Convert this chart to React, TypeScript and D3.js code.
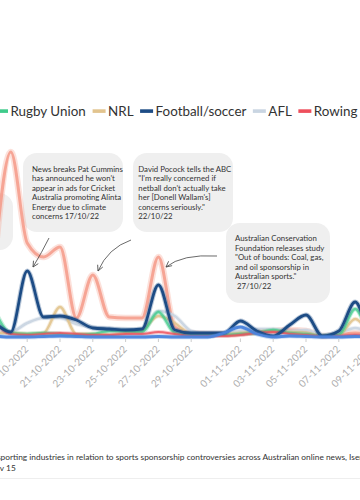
import React from "react";
import * as d3 from "d3";

const dates = [
  "2022-10-17", "2022-10-18", "2022-10-19", "2022-10-20", "2022-10-21", "2022-10-22",
  "2022-10-23", "2022-10-24", "2022-10-25", "2022-10-26", "2022-10-27", "2022-10-28",
  "2022-10-29", "2022-10-30", "2022-10-31", "2022-11-01", "2022-11-02", "2022-11-03",
  "2022-11-04", "2022-11-05", "2022-11-06", "2022-11-07", "2022-11-08", "2022-11-09",
  "2022-11-10",
];

const cricket = [15, 37, 18.8, 16, 18, 3.8, 12.4, 4, 3.8, 3.8, 16, 2, 0.8, 0.6, 0.6, 0.8, 1, 1.2, 1.4, 1.2, 0.2, 0.4, 0.8, 0.4, 0.2];
const afl = [0.8, 1, 2.8, 3.8, 3.8, 2.6, 2, 1.8, 1.6, 1.4, 5.2, 4.2, 1.2, 0.6, 0.6, 1.2, 1.6, 1.6, 1.2, 1.4, 0.4, 0.8, 1.8, 0.8, 0.4];
const nrl = [0.8, 0.8, 0.6, 0.8, 6, 0.6, 0.6, 0.4, 0.8, 1.4, 4.2, 2.8, 0.6, 0.6, 0.6, 0.8, 1, 1.2, 1, 0.8, 0.2, 0.4, 3.6, 0.8, 0.4];
const rugbyUnion = [5.4, 0.8, 0.6, 0.8, 0.6, 0.4, 0.6, 1.2, 1.2, 1, 5, 0.8, 0.4, 0.4, 0.4, 0.6, 0.8, 1.4, 0.8, 0.6, 0.2, 0.4, 5.6, 0.4, 0.2];
const rowing = [3, 0.6, 0.4, 0.6, 0.8, 0.6, 0.4, 0.4, 0.6, 0.6, 1, 0.6, 0.2, 0.2, 0.2, 0.4, 0.8, 1, 0.6, 0.4, 0.2, 0.2, 0.4, 0.2, 0.2];
const football = [3, 1, 13.2, 4, 4.2, 3.4, 1.8, 1.6, 1.4, 1.6, 10.4, 1.4, 0.8, 0.8, 0.8, 3.2, 1.2, 0.2, 2.4, 4.4, 0.2, 1.2, 7, 0.6, 0.4];
const netball = [0.2, 0, 0, 0.1, 0.2, 0.1, 0, 0, 0, 0, 0.1, 0, 0, 0, 0.8, 2, 0.6, 0, 0.2, 0.1, 0, 0, 0.1, 0, 0];

const tickDates = [
  "2022-10-19", "2022-10-21", "2022-10-23", "2022-10-25", "2022-10-27", "2022-10-29",
  "2022-11-01", "2022-11-03", "2022-11-05", "2022-11-07", "2022-11-09",
];

const legendNames = ["Rugby Union", "NRL", "Football/soccer", "AFL", "Rowing"];

const note1 = [
  "News breaks Pat Cummins",
  "has announced he won't",
  "appear in ads for Cricket",
  "Australia promoting Alinta",
  "Energy due to climate",
  "concerns 17/10/22",
];
const note2 = [
  "David Pocock tells the ABC",
  "\"I'm really concerned if",
  "netball don't actually take",
  "her [Donell Wallam's]",
  "concerns seriously.\"",
  "22/10/22",
];
const note3 = [
  "Australian Conservation",
  "Foundation releases study",
  "\"Out of bounds: Coal, gas,",
  "and oil sponsorship in",
  "Australian sports.\"",
  "\u00a027/10/22",
];

const captionLines = [
  "sporting industries in relation to sports sponsorship controversies across Australian online news, Isentia, Oct 17 –",
  "Nov 15",
];

const COLORS: Record<string, string> = {
  Cricket: "#f59a88",
  AFL: "#c9d5e2",
  NRL: "#e2c48e",
  "Rugby Union": "#3fcb8b",
  Rowing: "#ee4f5c",
  "Football/soccer": "#1d4c85",
  Netball: "#4a83dc",
};

const series = [
  { name: "Cricket", values: cricket, w: 3, halo: 6.5, op: 0.85 },
  { name: "AFL", values: afl, w: 2.6, halo: 4.5, op: 0.95 },
  { name: "NRL", values: nrl, w: 2.4, halo: 4.5, op: 0.9 },
  { name: "Rugby Union", values: rugbyUnion, w: 2.4, halo: 4.5, op: 0.75 },
  { name: "Rowing", values: rowing, w: 2, halo: 4, op: 0.8 },
  { name: "Football/soccer", values: football, w: 2.8, halo: 5, op: 1 },
  { name: "Netball", values: netball, w: 2.8, halo: 4.5, op: 0.95 },
];

const FONT = "Lato, 'Open Sans', sans-serif";

function measure(text: string, size: number) {
  const c = document.createElement("canvas").getContext("2d");
  if (!c) return text.length * size * 0.5;
  c.font = `${size}px Lato`;
  return c.measureText(text).width;
}

export default function App() {
  const W = 360;
  const H = 500;
  const parse = d3.timeParse("%Y-%m-%d");
  const x = d3
    .scaleTime()
    .domain([parse("2022-10-21") as Date, parse("2022-11-07") as Date])
    .range([60, 338.8]);
  const y = d3.scaleLinear().domain([0, 40]).range([337, 137]);
  const parsed = dates.map((d) => parse(d) as Date);

  const line = d3
    .line<number>()
    .x((_, i) => x(parsed[i]))
    .y((v) => y(v))
    .curve(d3.curveMonotoneX);

  // legend layout
  const legendSize = 13.4;
  const sw = 13;
  let lx = -5;
  const legendItems = legendNames.map((n) => {
    const item = { name: n, x: lx };
    lx += sw + 2.5 + measure(n, legendSize) + 6.5;
    return item;
  });

  const noteBox = (
    lines: string[],
    bx: number,
    by: number,
    bw: number,
    bh: number,
    tx: number,
    ty: number
  ) => (
    <g>
      <rect x={bx} y={by} width={bw} height={bh} rx={14} fill="#efefef" />
      {lines.map((l, i) => (
        <text key={i} x={tx} y={ty + i * 9.5} fontSize={7.8} fill="#333" fontFamily={FONT}>
          {l}
        </text>
      ))}
    </g>
  );

  return (
    <svg
      width={W}
      height={H}
      style={{ position: "absolute", left: 0, top: 0, background: "#fff" }}
      fontFamily={FONT}
    >
      <defs>
        <marker
          id="arrowhead"
          viewBox="0 0 10 10"
          refX={9}
          refY={5}
          markerWidth={7}
          markerHeight={7}
          markerUnits="userSpaceOnUse"
          orient="auto"
        >
          <path d="M1,1 L9,5 L1,9" fill="none" stroke="#444" strokeWidth={1.1} />
        </marker>
      </defs>

      {/* legend */}
      {legendItems.map((it) => (
        <g key={it.name}>
          <rect x={it.x} y={109.3} width={sw} height={3.6} fill={COLORS[it.name]} />
          <text x={it.x + sw + 2.5} y={115.8} fontSize={legendSize} fill="#333">
            {it.name}
          </text>
        </g>
      ))}

      {/* annotation boxes */}
      <rect x={-87} y={193} width={100} height={57} rx={14} fill="#efefef" />
      {noteBox(note1, 23, 153, 100, 79, 32, 171.6)}
      {noteBox(note2, 133, 153, 100, 79, 138.3, 171.6)}
      {noteBox(note3, 226, 223, 104, 80, 235, 241)}

      {/* lines */}
      {series.map((s) => (
        <g key={s.name}>
          <path
            d={line(s.values) || ""}
            fill="none"
            stroke={COLORS[s.name]}
            strokeOpacity={0.3}
            strokeWidth={s.halo}
            strokeLinejoin="round"
          />
          <path
            d={line(s.values) || ""}
            fill="none"
            stroke={COLORS[s.name]}
            strokeOpacity={s.op}
            strokeWidth={s.w}
            strokeLinejoin="round"
            strokeLinecap="round"
          />
        </g>
      ))}

      {/* arrows */}
      <path d="M49,238 Q42,252 33,267" fill="none" stroke="#444" strokeWidth={0.8} markerEnd="url(#arrowhead)" />
      <path d="M131,240 Q108,248 98,271" fill="none" stroke="#444" strokeWidth={0.8} markerEnd="url(#arrowhead)" />
      <path d="M217,256 Q182,254 166,267" fill="none" stroke="#444" strokeWidth={0.8} markerEnd="url(#arrowhead)" />

      {/* x axis ticks and labels */}
      {tickDates.map((t) => {
        const tx = x(parse(t) as Date);
        return (
          <g key={t}>
            <line x1={tx} x2={tx} y1={338.5} y2={342} stroke="#ccc" strokeWidth={1} />
            <text
              transform={`translate(${tx + 2},350) rotate(-45)`}
              textAnchor="end"
              fontSize={10}
              fill="#adadad"
            >
              {d3.timeFormat("%d-%m-%Y")(parse(t) as Date)}
            </text>
          </g>
        );
      })}

      {/* caption */}
      <text x={-3} y={460} fontSize={8.35} fill="#333">
        {captionLines[0]}
      </text>
      <text x={-11} y={471} fontSize={8.35} fill="#333">
        {captionLines[1]}
      </text>
      <line x1={0} x2={W} y1={478.5} y2={478.5} stroke="#eee" strokeWidth={1} />
    </svg>
  );
}
